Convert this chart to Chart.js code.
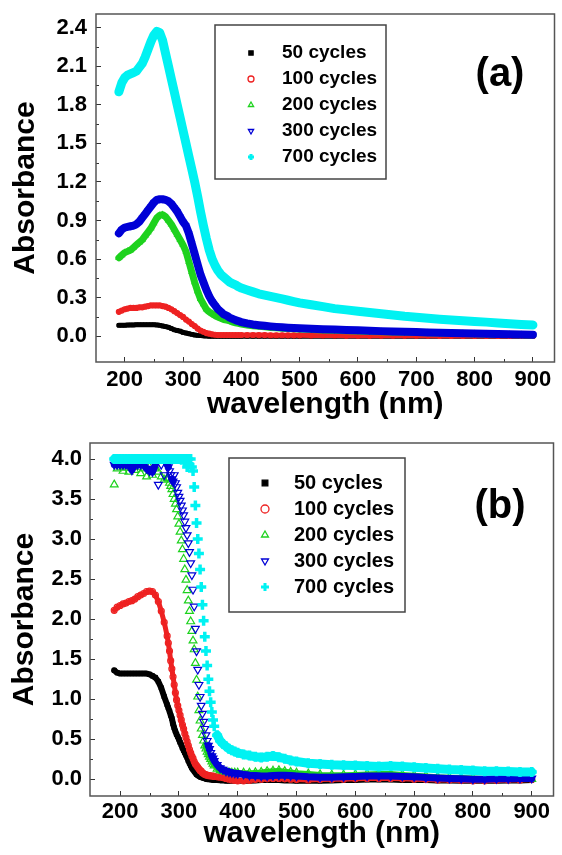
<!DOCTYPE html>
<html>
<head>
<meta charset="utf-8">
<script src="https://cdn.jsdelivr.net/npm/chart.js@4.4.1/dist/chart.umd.min.js"></script>
<style>
  html, body { margin: 0; padding: 0; background: #fff; overflow: hidden; }
  .panel { position: absolute; left: 0; width: 562px; }
  #wrapA { top: 0; height: 425px; }
  #wrapB { top: 425px; height: 430px; }
</style>
</head>
<body>
<div class="panel" id="wrapA"><canvas id="chartA"></canvas></div>
<div class="panel" id="wrapB"><canvas id="chartB"></canvas></div>
<script>
var seriesNames = ['50 cycles', '100 cycles', '200 cycles', '300 cycles', '700 cycles'];
var xTicks = [200, 300, 400, 500, 600, 700, 800, 900];
var yTicksA = [0.0, 0.3, 0.6, 0.9, 1.2, 1.5, 1.8, 2.1, 2.4];
var yTicksB = [0.0, 0.5, 1.0, 1.5, 2.0, 2.5, 3.0, 3.5, 4.0];

// panel (a): wavelength (nm) and absorbance per deposition
var wlA = [190, 195, 200, 205, 210, 215, 220, 225, 230, 235, 240, 245, 250, 255, 260, 265, 270, 275, 280, 285,
  290, 295, 300, 305, 310, 315, 320, 325, 330, 335, 340, 345, 350, 355, 360, 365, 370, 375, 380, 385, 390, 395, 400,
  410, 420, 430, 440, 450, 460, 470, 480, 490, 500,
  520, 540, 560, 580, 600, 620, 640, 660, 680, 700, 720, 740, 760, 780, 800, 820, 840, 860, 880, 900];
var a50 = [0.085, 0.085, 0.085, 0.087, 0.088, 0.088, 0.09, 0.09, 0.09, 0.09, 0.09, 0.09, 0.09, 0.088, 0.085, 0.08, 0.075, 0.07, 0.06, 0.05,
  0.045, 0.04, 0.03, 0.025, 0.02, 0.015, 0.01, 0.007, 0.005, 0.003, 0.002, 0, 0, 0, 0, 0, 0, 0, 0, 0, 0, 0, 0,
  0, 0, 0, 0, 0, 0, 0, 0, 0, 0,
  0, 0, 0, 0, 0, 0, 0, 0, 0, 0, 0, 0, 0, 0, 0, 0, 0, 0, 0, 0];
var a100 = [0.19, 0.20, 0.21, 0.215, 0.22, 0.22, 0.22, 0.225, 0.225, 0.23, 0.235, 0.24, 0.24, 0.24, 0.24, 0.235, 0.23, 0.22, 0.21, 0.195,
  0.18, 0.165, 0.15, 0.13, 0.115, 0.095, 0.08, 0.06, 0.045, 0.035, 0.025, 0.02, 0.015, 0.012, 0.01, 0.01, 0.01, 0.01, 0.01, 0.01, 0.01, 0.01, 0.01,
  0.01, 0.01, 0.009, 0.009, 0.008, 0.008, 0.008, 0.007, 0.007, 0.007,
  0.006, 0.006, 0.006, 0.005, 0.005, 0.005, 0.005, 0.004, 0.004, 0.004, 0.004, 0.003, 0.003, 0.003, 0.003, 0.003, 0.002, 0.002, 0.002, 0.002];
var a200 = [0.61, 0.63, 0.65, 0.66, 0.67, 0.69, 0.71, 0.73, 0.75, 0.78, 0.81, 0.84, 0.88, 0.92, 0.94, 0.945, 0.93, 0.90, 0.87, 0.83,
  0.79, 0.75, 0.71, 0.66, 0.58, 0.50, 0.42, 0.35, 0.29, 0.25, 0.21, 0.19, 0.175, 0.16, 0.15, 0.14, 0.13, 0.125, 0.12, 0.11, 0.105, 0.10, 0.095,
  0.088, 0.082, 0.077, 0.073, 0.069, 0.066, 0.063, 0.06, 0.058, 0.056,
  0.052, 0.049, 0.046, 0.043, 0.04, 0.038, 0.036, 0.034, 0.032, 0.03, 0.028, 0.026, 0.024, 0.022, 0.02, 0.018, 0.016, 0.014, 0.012, 0.01];
var a300 = [0.80, 0.83, 0.845, 0.85, 0.855, 0.86, 0.87, 0.89, 0.92, 0.95, 0.98, 1.01, 1.04, 1.06, 1.065, 1.065, 1.06, 1.05, 1.03, 1.00,
  0.97, 0.93, 0.89, 0.86, 0.80, 0.72, 0.64, 0.56, 0.48, 0.42, 0.36, 0.31, 0.27, 0.24, 0.21, 0.19, 0.17, 0.16, 0.145, 0.135, 0.125, 0.118, 0.11,
  0.10, 0.092, 0.086, 0.081, 0.077, 0.073, 0.07, 0.067, 0.064, 0.062,
  0.058, 0.055, 0.052, 0.049, 0.046, 0.043, 0.04, 0.038, 0.035, 0.033, 0.03, 0.028, 0.026, 0.024, 0.022, 0.02, 0.018, 0.016, 0.014, 0.012];
var a700 = [1.90, 1.97, 2.01, 2.03, 2.04, 2.05, 2.06, 2.09, 2.12, 2.17, 2.23, 2.29, 2.34, 2.37, 2.36, 2.30, 2.20, 2.10, 2.00, 1.90,
  1.80, 1.70, 1.60, 1.50, 1.40, 1.30, 1.20, 1.09, 0.97, 0.86, 0.76, 0.67, 0.60, 0.55, 0.51, 0.48, 0.46, 0.44, 0.42, 0.41, 0.40, 0.385, 0.375,
  0.36, 0.345, 0.33, 0.32, 0.31, 0.30, 0.29, 0.28, 0.27, 0.26,
  0.245, 0.23, 0.215, 0.205, 0.195, 0.185, 0.175, 0.165, 0.155, 0.148, 0.14, 0.133, 0.127, 0.12, 0.115, 0.11, 0.103, 0.097, 0.092, 0.088];

// panel (b)
var wlB = [190, 195, 200, 205, 210, 215, 220, 225, 230, 235, 240, 245, 250, 255, 260, 265, 270, 275, 280,
  282, 284, 286, 288, 290, 292, 294, 296, 298, 300, 302, 304, 306, 308, 310, 312, 314, 316, 318, 320,
  322, 324, 326, 328, 330, 332, 334, 336, 338, 340, 342, 344, 346, 348, 350, 352, 354, 356, 358, 360,
  365, 370, 375, 380, 385, 390, 395, 400,
  410, 420, 430, 440, 450, 460, 470, 480, 490, 500,
  520, 540, 560, 580, 600, 620, 640, 660, 680, 700, 720, 740, 760, 780, 800, 820, 840, 860, 880, 900];
var b50 = [1.36, 1.33, 1.32, 1.32, 1.32, 1.32, 1.32, 1.32, 1.32, 1.32, 1.32, 1.32, 1.31, 1.29, 1.27, 1.22, 1.14, 1.03, 0.93,
  0.89, 0.85, 0.80, 0.76, 0.69, 0.64, 0.60, 0.56, 0.53, 0.50, 0.46, 0.43, 0.39, 0.36, 0.33, 0.30, 0.27, 0.23, 0.20, 0.17,
  0.14, 0.12, 0.10, 0.08, 0.06, 0.05, 0.04, 0.03, 0.025, 0.02, 0.015, 0.01, 0.005, 0, 0, 0, -0.005, -0.005, -0.01, -0.01,
  -0.01, -0.015, -0.015, -0.02, -0.02, -0.02, -0.02, -0.02,
  -0.02, -0.02, -0.015, -0.01, -0.01, -0.01, -0.01, -0.015, -0.015, -0.02,
  -0.02, -0.02, -0.015, -0.01, -0.01, -0.005, -0.005, -0.005, -0.01, -0.01, -0.01, -0.015, -0.015, -0.02, -0.02, -0.02, -0.02, -0.015, -0.015, -0.01];
var b100 = [2.11, 2.15, 2.17, 2.19, 2.20, 2.22, 2.23, 2.25, 2.28, 2.30, 2.32, 2.345, 2.35, 2.345, 2.30, 2.22, 2.10, 1.96, 1.79,
  1.70, 1.60, 1.48, 1.38, 1.28, 1.18, 1.08, 0.99, 0.92, 0.86, 0.80, 0.74, 0.68, 0.63, 0.57, 0.52, 0.47, 0.42, 0.37, 0.33,
  0.29, 0.26, 0.22, 0.19, 0.17, 0.15, 0.13, 0.11, 0.10, 0.08, 0.07, 0.06, 0.055, 0.05, 0.045, 0.045, 0.04, 0.04, 0.04, 0.035,
  0.03, 0.025, 0.02, 0.01, 0, -0.01, -0.015, -0.02,
  -0.02, -0.015, -0.005, 0, 0.005, 0.01, 0.01, 0.005, 0, -0.005,
  -0.01, -0.005, 0, 0, 0.005, 0.01, 0.01, 0.01, 0.005, 0, -0.005, -0.01, -0.01, -0.015, -0.02, -0.02, -0.015, -0.01, -0.01, -0.005];
var b200 = [3.68, 3.88, 3.90, 3.85, 3.89, 3.84, 3.90, 3.86, 3.90, 3.82, 3.88, 3.78, 3.90, 3.80, 3.88, 3.84, 3.78, 3.74, 3.76,
  3.75, 3.70, 3.66, 3.62, 3.56, 3.50, 3.44, 3.37, 3.28, 3.19, 3.09, 2.98, 2.87, 2.75, 2.62, 2.49, 2.36, 2.23, 2.10, 1.97,
  1.85, 1.73, 1.62, 1.45, 1.24, 1.03, 0.86, 0.73, 0.63, 0.55, 0.48, 0.42, 0.38, 0.34, 0.31, 0.28, 0.25, 0.22, 0.19, 0.17,
  0.13, 0.11, 0.10, 0.09, 0.085, 0.08, 0.08, 0.08,
  0.08, 0.08, 0.085, 0.09, 0.10, 0.105, 0.11, 0.10, 0.09, 0.08,
  0.07, 0.06, 0.055, 0.055, 0.06, 0.065, 0.07, 0.07, 0.06, 0.05, 0.04, 0.03, 0.025, 0.02, 0.015, 0.01, 0.01, 0.01, 0.005, 0];
var b300 = [3.93, 3.93, 3.93, 3.93, 3.93, 3.93, 3.86, 3.93, 3.93, 3.93, 3.93, 3.88, 3.85, 3.84, 3.93, 3.68, 3.93, 3.80, 3.93,
  3.90, 3.85, 3.80, 3.75, 3.72, 3.80, 3.70, 3.65, 3.58, 3.53, 3.48, 3.42, 3.36, 3.30, 3.22, 3.14, 3.05, 2.95, 2.84, 2.70,
  2.55, 2.37, 2.16, 1.88, 1.60, 1.37, 1.18, 1.03, 0.92, 0.82, 0.72, 0.63, 0.55, 0.48, 0.42, 0.38, 0.33, 0.29, 0.26, 0.23,
  0.18, 0.14, 0.12, 0.10, 0.09, 0.08, 0.075, 0.07,
  0.06, 0.05, 0.045, 0.04, 0.04, 0.045, 0.05, 0.05, 0.045, 0.04,
  0.03, 0.025, 0.025, 0.03, 0.035, 0.04, 0.04, 0.04, 0.035, 0.03, 0.02, 0.015, 0.01, 0.005, 0, 0, 0.005, 0.005, 0.01, 0.01];
var b700 = [4.0, 4.0, 4.0, 4.0, 4.0, 4.0, 4.0, 4.0, 4.0, 4.0, 4.0, 4.0, 4.0, 4.0, 4.0, 4.0, 4.0, 4.0, 4.0,
  4.0, 4.0, 4.0, 4.0, 4.0, 4.0, 4.0, 4.0, 4.0, 4.0, 4.0, 4.0, 4.0, 4.0, 3.95, 4.0, 3.90, 4.0, 3.93, 4.0,
  3.90, 3.85, 3.65, 3.42, 3.20, 3.00, 2.82, 2.62, 2.40, 2.18, 1.98, 1.78, 1.60, 1.42, 1.25, 1.10, 0.96, 0.84, 0.74, 0.66,
  0.55, 0.48, 0.44, 0.41, 0.38, 0.36, 0.345, 0.33,
  0.31, 0.295, 0.28, 0.27, 0.28, 0.29, 0.275, 0.255, 0.235, 0.22,
  0.20, 0.19, 0.18, 0.175, 0.17, 0.165, 0.16, 0.165, 0.16, 0.15, 0.14, 0.13, 0.12, 0.115, 0.11, 0.10, 0.10, 0.095, 0.09, 0.09];

var FONT = '"Liberation Sans", Arial, sans-serif';
Chart.defaults.font.family = FONT;
Chart.defaults.color = '#000';

// marker look of each series
var looks = [
  { color: '#000000', fill: '#000000', style: 'rect', rot: 0, bw: 1 },
  { color: '#ee2222', fill: 'transparent', style: 'circle', rot: 0, bw: 1.2 },
  { color: '#1ed21e', fill: 'transparent', style: 'triangle', rot: 0, bw: 1.2 },
  { color: '#0000d6', fill: 'transparent', style: 'triangle', rot: 180, bw: 1.2 },
  { color: '#00f2f2', fill: '#00f2f2', style: 'cross', rot: 0, bw: 3.5 }
];

// gaps: per series, slope (per nm) above which the joining line is left out
function makeSets(wl, series, widths, radius, gaps, gapAbove) {
  return series.map(function (vals, i) {
    var lk = looks[i];
    var ds = {
      label: seriesNames[i],
      data: wl.map(function (x, k) { return { x: x, y: vals[k] }; }),
      showLine: true,
      borderColor: lk.color,
      borderWidth: widths[i],
      borderJoinStyle: 'round',
      borderCapStyle: 'round',
      pointStyle: lk.style,
      pointRotation: lk.rot,
      pointRadius: radius[i],
      pointBorderWidth: lk.bw,
      pointBorderColor: lk.color,
      pointBackgroundColor: lk.fill,
      order: 5 - i
    };
    if (gaps && gaps[i] !== null) {
      var lim = gaps[i], cut = gapAbove[i];
      ds.segment = {
        borderColor: function (c) {
          var dy = Math.abs(c.p1.parsed.y - c.p0.parsed.y);
          var dx = Math.abs(c.p1.parsed.x - c.p0.parsed.x) || 1;
          if (dy / dx > lim) return 'transparent';
          if (cut !== null && (c.p0.parsed.y > cut || c.p1.parsed.y > cut)) return 'transparent';
          return undefined;
        }
      };
    }
    return ds;
  });
}

function decor(o) {
  return {
    id: 'decor',
    afterDraw: function (chart) {
      var ctx = chart.ctx, area = chart.chartArea;
      var xs = chart.scales.x, ys = chart.scales.y;
      ctx.save();
      // minor ticks, inward
      ctx.strokeStyle = '#333';
      ctx.lineWidth = 1;
      ctx.beginPath();
      for (var i = 0; i + 1 < xTicks.length; i++) {
        var px = Math.round(xs.getPixelForValue((xTicks[i] + xTicks[i + 1]) / 2)) + 0.5;
        ctx.moveTo(px, area.bottom);
        ctx.lineTo(px, area.bottom - 3);
      }
      for (var j = 0; j + 1 < o.yTicks.length; j++) {
        var py = Math.round(ys.getPixelForValue((o.yTicks[j] + o.yTicks[j + 1]) / 2)) + 0.5;
        ctx.moveTo(area.left, py);
        ctx.lineTo(area.left + 3, py);
      }
      ctx.stroke();
      // frame
      ctx.strokeStyle = '#555';
      ctx.lineWidth = 1.5;
      ctx.strokeRect(area.left, area.top, area.right - area.left, area.bottom - area.top);
      // legend box
      var L = o.legend;
      ctx.fillStyle = '#fff';
      ctx.fillRect(L.x, L.y, L.w, L.h);
      ctx.strokeStyle = '#444';
      ctx.lineWidth = 1.5;
      ctx.strokeRect(L.x, L.y, L.w, L.h);
      chart.data.datasets.forEach(function (ds, k) {
        var y = L.row0 + k * L.dy;
        ctx.fillStyle = ds.pointBackgroundColor;
        ctx.strokeStyle = ds.pointBorderColor;
        ctx.lineWidth = ds.pointStyle === 'cross' ? 3 : 1.3;
        Chart.helpers.drawPoint(ctx, {
          pointStyle: ds.pointStyle,
          rotation: ds.pointRotation,
          radius: L.r,
          borderWidth: ctx.lineWidth
        }, L.mx, y);
        ctx.fillStyle = '#000';
        ctx.font = 'bold ' + L.size + 'px ' + FONT;
        ctx.textAlign = 'left';
        ctx.textBaseline = 'middle';
        ctx.fillText(ds.label, L.tx, y);
      });
      // panel tag
      ctx.fillStyle = '#000';
      ctx.font = 'bold ' + o.tag.size + 'px ' + FONT;
      ctx.textAlign = 'center';
      ctx.textBaseline = 'middle';
      ctx.fillText(o.tag.text, o.tag.x, o.tag.y);
      ctx.restore();
    }
  };
}

function axes(o) {
  return {
    x: {
      type: 'linear',
      min: o.xMin, max: o.xMax,
      afterBuildTicks: function (axis) { axis.ticks = xTicks.map(function (v) { return { value: v }; }); },
      afterFit: function (axis) { axis.height = o.xHeight; axis.paddingLeft = 0; axis.paddingRight = 0; },
      grid: { drawOnChartArea: false, tickLength: -5, color: '#333', lineWidth: 1 },
      border: { display: false },
      ticks: {
        padding: o.xPad,
        font: { size: 22, weight: 'bold' },
        color: '#000',
        callback: function (v) { return String(v); }
      },
      title: {
        display: true, text: 'wavelength (nm)', color: '#000',
        font: { size: 30, weight: 'bold' },
        padding: { top: 0, bottom: o.xTitlePad }
      }
    },
    y: {
      type: 'linear',
      min: o.yMin, max: o.yMax,
      afterBuildTicks: function (axis) { axis.ticks = o.yTicks.map(function (v) { return { value: v }; }); },
      afterFit: function (axis) { axis.width = o.yWidth; axis.paddingTop = 0; axis.paddingBottom = 0; },
      grid: { drawOnChartArea: false, tickLength: -5, color: '#333', lineWidth: 1 },
      border: { display: false },
      ticks: {
        padding: o.yPad,
        font: { size: 22, weight: 'bold' },
        color: '#000',
        callback: function (v) { return v.toFixed(1); }
      },
      title: {
        display: true, text: 'Absorbance', color: '#000',
        font: { size: 30, weight: 'bold' },
        padding: { top: o.yTitlePad, bottom: 0 }
      }
    }
  };
}

new Chart(document.getElementById('chartA'), {
  type: 'scatter',
  data: {
    datasets: makeSets(wlA, [a50, a100, a200, a300, a700], [5, 5, 7, 8, 9], [2.5, 2.5, 3, 3, 3], null, null)
  },
  options: {
    responsive: true,
    maintainAspectRatio: false,
    animation: false,
    events: [],
    layout: { padding: { top: 14, right: 2, bottom: 0, left: 0 } },
    plugins: { legend: { display: false }, tooltip: { enabled: false } },
    scales: axes({
      xMin: 150.8, xMax: 937, yMin: -0.2, yMax: 2.505, yTicks: yTicksA,
      xHeight: 63, yWidth: 96, xPad: 10, yPad: 14, xTitlePad: 2, yTitlePad: 8
    })
  },
  plugins: [decor({
    yTicks: yTicksA,
    legend: { x: 215, y: 25, w: 171, h: 154, mx: 251, tx: 282, row0: 53, dy: 26, r: 3, size: 19 },
    tag: { text: '(a)', x: 500, y: 75, size: 40 }
  })]
});

new Chart(document.getElementById('chartB'), {
  type: 'scatter',
  data: {
    datasets: makeSets(wlB, [b50, b100, b200, b300, b700], [6, 5, 5, 7, 9], [3, 3, 4.5, 4.5, 5],
      [null, null, 0.02, 0.02, 0.02], [null, null, 3.5, null, null])
  },
  options: {
    responsive: true,
    maintainAspectRatio: false,
    animation: false,
    events: [],
    layout: { padding: { top: 18, right: 1, bottom: 0, left: 0 } },
    plugins: { legend: { display: false }, tooltip: { enabled: false } },
    scales: axes({
      xMin: 148.8, xMax: 937, yMin: -0.21, yMax: 4.2, yTicks: yTicksB,
      xHeight: 59, yWidth: 90, xPad: 8, yPad: 13, xTitlePad: 3, yTitlePad: 7
    })
  },
  plugins: [decor({
    yTicks: yTicksB,
    legend: { x: 229, y: 33, w: 176, h: 154, mx: 265, tx: 294, row0: 58, dy: 26, r: 4, size: 20 },
    tag: { text: '(b)', x: 500, y: 82, size: 40 }
  })]
});
</script>
</body>
</html>
